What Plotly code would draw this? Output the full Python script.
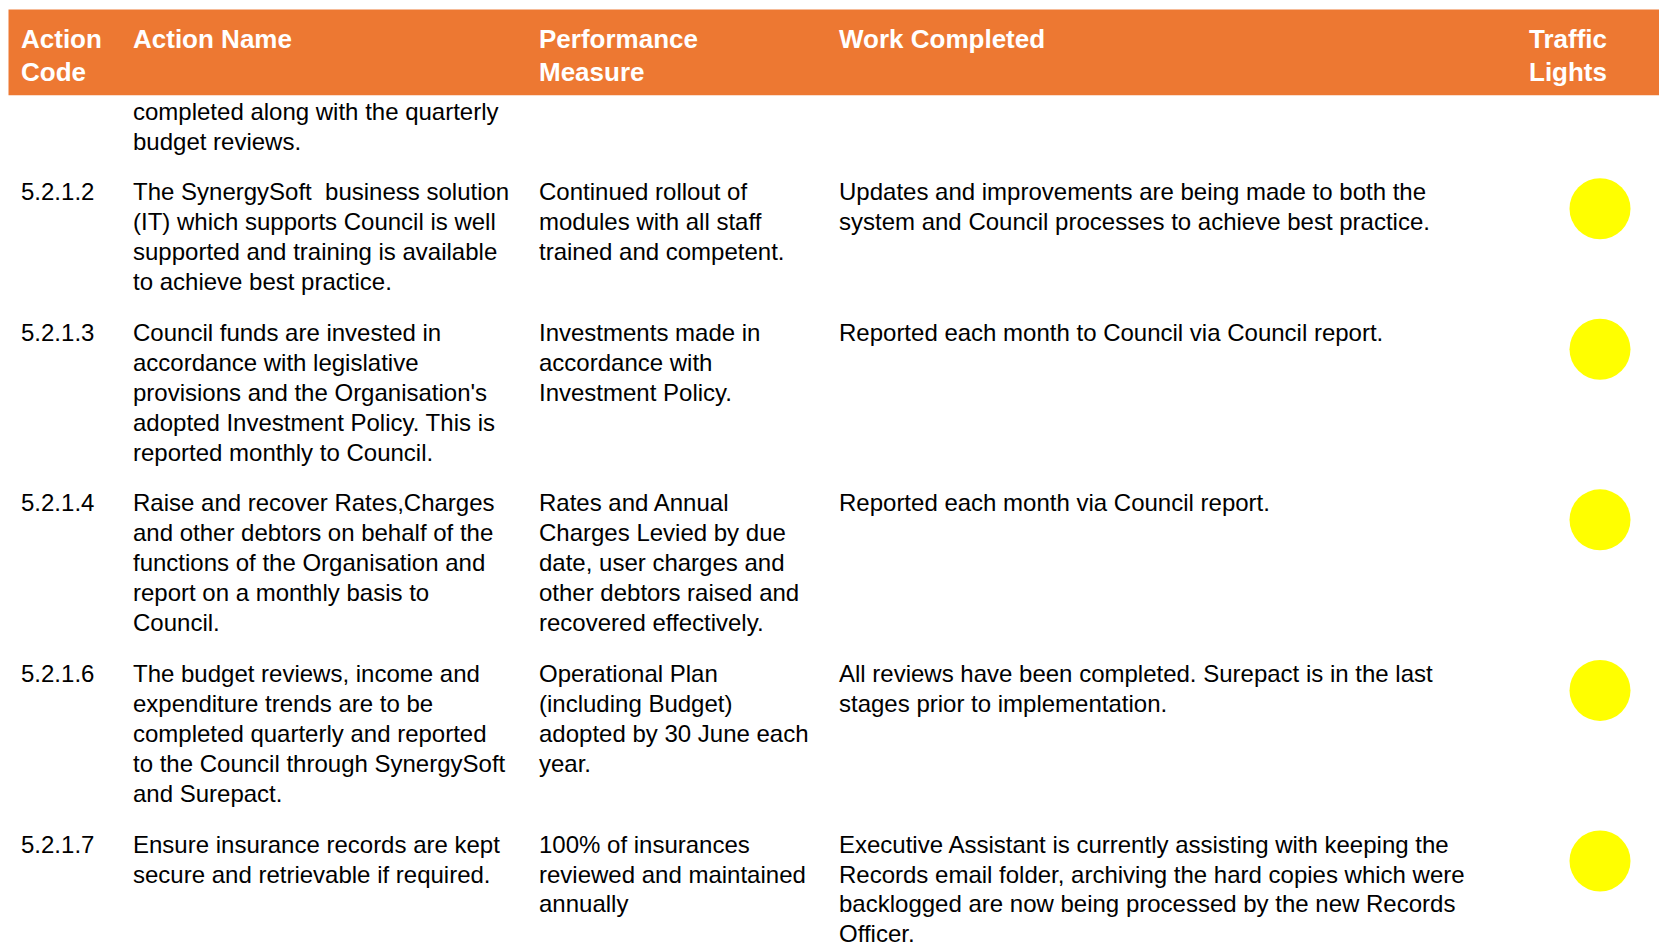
import plotly.graph_objects as go

# ---------------- data ----------------
headers = [["Action", "Code"], ["Action Name"], ["Performance", "Measure"], ["Work Completed"], ["Traffic", "Lights"]]

codes = ["", "5.2.1.2", "5.2.1.3", "5.2.1.4", "5.2.1.6", "5.2.1.7"]

names = [
    ["completed along with the quarterly", "budget reviews."],
    ["The SynergySoft\u00a0 business solution", "(IT) which supports Council is well",
     "supported and training is available", "to achieve best practice."],
    ["Council funds are invested in", "accordance with legislative", "provisions and the Organisation's",
     "adopted Investment Policy. This is", "reported monthly to Council."],
    ["Raise and recover Rates,Charges", "and other debtors on behalf of the", "functions of the Organisation and",
     "report on a monthly basis to", "Council."],
    ["The budget reviews, income and", "expenditure trends are to be", "completed quarterly and reported",
     "to the Council through SynergySoft", "and Surepact."],
    ["Ensure insurance records are kept", "secure and retrievable if required."],
]

measures = [
    [],
    ["Continued rollout of", "modules with all staff", "trained and competent."],
    ["Investments made in", "accordance with", "Investment Policy."],
    ["Rates and Annual", "Charges Levied by due", "date, user charges and", "other debtors raised and",
     "recovered effectively."],
    ["Operational Plan", "(including Budget)", "adopted by 30 June each", "year."],
    ["100% of insurances", "reviewed and maintained", "annually"],
]

work = [
    [],
    ["Updates and improvements are being made to both the",
     "system and Council processes to achieve best practice."],
    ["Reported each month to Council via Council report."],
    ["Reported each month via Council report."],
    ["All reviews have been completed. Surepact is in the last", "stages prior to implementation."],
    ["Executive Assistant is currently assisting with keeping the",
     "Records email folder, archiving the hard copies which were",
     "backlogged are now being processed by the new Records", "Officer."],
]

lights = [None, "yellow", "yellow", "yellow", "yellow", "yellow"]

# ---------------- layout constants (page pixels) ----------------
W, H = 1659, 944
COL_X = [19, 131, 536.5, 837, 1527]
HEADER_TOP, HEADER_BOTTOM, HEADER_LEFT = 9.5, 95.2, 8.5
HEADER_Y0, HEADER_LS = 39.1, 32.8
BODY_Y0, BODY_LS, ROW_GAP = 111.1, 29.95, 20.8
LIGHT_X, LIGHT_DY, LIGHT_SIZE = 1600, 16.9, 61
ORANGE = "#ED7832"
FONT = "Arial, 'Liberation Sans', sans-serif"

fig = go.Figure()
annotations = []

# header band
fig.add_shape(type="rect", xref="x", yref="y", x0=HEADER_LEFT, x1=W + 5, y0=HEADER_TOP,
              y1=HEADER_BOTTOM, fillcolor=ORANGE, line=dict(width=0), layer="below")

for cx, lines in zip(COL_X, headers):
    for i, t in enumerate(lines):
        annotations.append(dict(x=cx, y=HEADER_Y0 + i * HEADER_LS, xref="x", yref="y",
                                text="<b>%s</b>" % t, showarrow=False, xanchor="left", yanchor="middle",
                                font=dict(family=FONT, size=26, color="white")))

# body rows
row_y = BODY_Y0
light_x, light_y, light_c = [], [], []
for r in range(len(codes)):
    cells = [[codes[r]] if codes[r] else [], names[r], measures[r], work[r]]
    for cx, lines in zip(COL_X[:4], cells):
        for i, t in enumerate(lines):
            annotations.append(dict(x=cx, y=row_y + i * BODY_LS, xref="x", yref="y", text=t,
                                    showarrow=False, xanchor="left", yanchor="middle",
                                    font=dict(family=FONT, size=24, color="black")))
    if lights[r]:
        light_x.append(LIGHT_X)
        light_y.append(row_y + LIGHT_DY)
        light_c.append(lights[r])
    nlines = max(len(c) for c in cells)
    row_y += nlines * BODY_LS + ROW_GAP

fig.add_trace(go.Scatter(x=light_x, y=light_y, mode="markers",
                         marker=dict(size=LIGHT_SIZE, color="#FFFF00", line=dict(width=0)),
                         hoverinfo="skip", showlegend=False))

fig.update_layout(
    width=W, height=H, margin=dict(l=0, r=0, t=0, b=0),
    paper_bgcolor="white", plot_bgcolor="white",
    xaxis=dict(range=[0, W], visible=False, fixedrange=True),
    yaxis=dict(range=[H, 0], visible=False, fixedrange=True),
    annotations=annotations, showlegend=False,
)

fig.write_html("out.html", config={"displayModeBar": False},
               post_script="document.body.style.margin='0';document.body.style.overflow='hidden';")
